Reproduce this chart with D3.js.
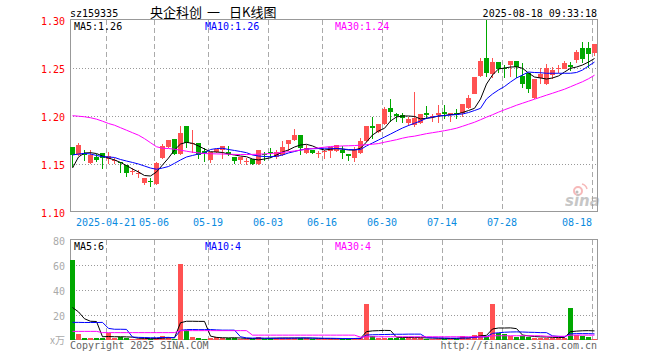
<!DOCTYPE html>
<html lang="zh-CN">
<head>
<meta charset="UTF-8">
<title>央企科创 日K线图</title>
<script src="https://cdn.jsdelivr.net/npm/d3@7"></script>
<style>
  body { margin: 0; background: #fff; }
  svg { display: block; }
  text { font-family: "DejaVu Sans Mono", "Liberation Mono", monospace; font-size: 10px; }
</style>
</head>
<body>
<svg id="chart" width="660" height="360"></svg>
<script>
const dates = [
  '04-11','04-14','04-15','04-16','04-17','04-18','04-21','04-22','04-23','04-24','04-25','04-28','04-29','04-30',
  '05-06','05-07','05-08','05-09','05-12','05-13','05-14','05-15','05-16','05-19','05-20','05-21','05-22','05-23',
  '05-26','05-27','05-28','05-29','05-30','06-03','06-04','06-05','06-06','06-09','06-10','06-11','06-12','06-13',
  '06-16','06-17','06-18','06-19','06-20','06-23','06-24','06-25','06-26','06-27','06-30','07-01','07-02','07-03',
  '07-04','07-07','07-08','07-09','07-10','07-11','07-14','07-15','07-16','07-17','07-18','07-21','07-22','07-23',
  '07-24','07-25','07-28','07-29','07-30','07-31','08-01','08-04','08-05','08-06','08-07','08-08','08-11','08-12',
  '08-13','08-14','08-15','08-18'
];

const open = [
  1.1677, 1.1594, 1.1615, 1.1510, 1.1578, 1.1611, 1.1549, 1.1532, 1.1517, 1.1490,
  1.1417, 1.1401, 1.1299, 1.1323, 1.1292, 1.1570, 1.1680, 1.1757, 1.1604, 1.1896,
  1.1717, 1.1715, 1.1635, 1.1549, 1.1622, 1.1646, 1.1628, 1.1570, 1.1534, 1.1529,
  1.1549, 1.1500, 1.1599, 1.1625, 1.1576, 1.1594, 1.1708, 1.1750, 1.1802, 1.1611,
  1.1646, 1.1612, 1.1635, 1.1628, 1.1639, 1.1646, 1.1601, 1.1566, 1.1618, 1.1740,
  1.1899, 1.1836, 1.1914, 1.2086, 1.2018, 1.2010, 1.1924, 1.1899, 1.1924, 1.2034,
  1.1990, 1.2010, 1.2039, 1.2010, 1.2034, 1.2028, 1.2086, 1.2236, 1.2417, 1.2607,
  1.2438, 1.2566, 1.2497, 1.2531, 1.2573, 1.2417, 1.2445, 1.2184, 1.2399, 1.2333,
  1.2427, 1.2486, 1.2497, 1.2531, 1.2583, 1.2711, 1.2711, 1.2653
];
const close = [
  1.1594, 1.1693, 1.1599, 1.1594, 1.1542, 1.1559, 1.1583, 1.1538, 1.1511, 1.1403,
  1.1424, 1.1406, 1.1351, 1.1318, 1.1514, 1.1691, 1.1750, 1.1604, 1.1820, 1.1715,
  1.1722, 1.1594, 1.1615, 1.1628, 1.1656, 1.1688, 1.1604, 1.1524, 1.1570, 1.1534,
  1.1500, 1.1646, 1.1594, 1.1620, 1.1628, 1.1680, 1.1750, 1.1799, 1.1663, 1.1663,
  1.1618, 1.1617, 1.1640, 1.1674, 1.1698, 1.1611, 1.1576, 1.1646, 1.1740, 1.1896,
  1.1880, 1.1920, 1.2073, 1.2045, 1.1997, 1.1976, 1.1969, 1.1976, 1.2021, 1.2018,
  1.2003, 1.2031, 1.2021, 1.2034, 1.2018, 1.2125, 1.2191, 1.2409, 1.2576, 1.2455,
  1.2566, 1.2490, 1.2486, 1.2573, 1.2514, 1.2333, 1.2281, 1.2382, 1.2438, 1.2497,
  1.2479, 1.2497, 1.2555, 1.2514, 1.2670, 1.2601, 1.2653, 1.2750
];
const high = [
  1.1677, 1.1714, 1.1646, 1.1646, 1.1604, 1.1615, 1.1628, 1.1559, 1.1524, 1.1490,
  1.1455, 1.1438, 1.1351, 1.1357, 1.1524, 1.1705, 1.1750, 1.1757, 1.1896, 1.1896,
  1.1854, 1.1715, 1.1667, 1.1628, 1.1656, 1.1688, 1.1688, 1.1570, 1.1570, 1.1563,
  1.1549, 1.1646, 1.1628, 1.1670, 1.1646, 1.1743, 1.1750, 1.1861, 1.1802, 1.1698,
  1.1646, 1.1638, 1.1646, 1.1674, 1.1698, 1.1688, 1.1601, 1.1680, 1.1768, 1.1896,
  1.1993, 1.1920, 1.2097, 1.2177, 1.2028, 1.2028, 1.1993, 1.2247, 1.2021, 1.2107,
  1.2018, 1.2115, 1.2115, 1.2034, 1.2070, 1.2125, 1.2219, 1.2409, 1.2601, 1.3000,
  1.2601, 1.2566, 1.2531, 1.2573, 1.2573, 1.2549, 1.2445, 1.2382, 1.2497, 1.2538,
  1.2514, 1.2531, 1.2573, 1.2566, 1.2688, 1.2768, 1.2768, 1.2750
];
const low = [
  1.1479, 1.1594, 1.1542, 1.1510, 1.1531, 1.1455, 1.1507, 1.1507, 1.1420, 1.1375,
  1.1396, 1.1361, 1.1290, 1.1271, 1.1292, 1.1559, 1.1680, 1.1604, 1.1604, 1.1680,
  1.1628, 1.1559, 1.1534, 1.1524, 1.1622, 1.1559, 1.1594, 1.1510, 1.1510, 1.1500,
  1.1500, 1.1500, 1.1542, 1.1576, 1.1563, 1.1594, 1.1646, 1.1750, 1.1601, 1.1611,
  1.1610, 1.1576, 1.1559, 1.1573, 1.1639, 1.1559, 1.1542, 1.1534, 1.1618, 1.1740,
  1.1768, 1.1836, 1.1914, 1.1948, 1.1948, 1.1934, 1.1906, 1.1899, 1.1924, 1.1976,
  1.1948, 1.1941, 1.1976, 1.1948, 1.1976, 1.2000, 1.2086, 1.2236, 1.2417, 1.2420,
  1.2410, 1.2462, 1.2406, 1.2417, 1.2410, 1.2305, 1.2247, 1.2184, 1.2340, 1.2333,
  1.2393, 1.2462, 1.2497, 1.2479, 1.2566, 1.2566, 1.2514, 1.2636
];

// moving averages as drawn on the chart
const ma5 = [
  1.1458, 1.1573, 1.1615, 1.1618, 1.1609, 1.1583, 1.1562, 1.1542, 1.1516, 1.1484,
  1.1448, 1.1417, 1.1380, 1.1375, 1.1417, 1.1490, 1.1562, 1.1646, 1.1708, 1.1726,
  1.1715, 1.1688, 1.1656, 1.1628, 1.1625, 1.1620, 1.1604, 1.1594, 1.1583, 1.1576,
  1.1552, 1.1542, 1.1552, 1.1565, 1.1594, 1.1625, 1.1646, 1.1677, 1.1698, 1.1705,
  1.1688, 1.1661, 1.1646, 1.1653, 1.1661, 1.1656, 1.1646, 1.1646, 1.1664, 1.1729,
  1.1802, 1.1844, 1.1872, 1.1948, 1.1990, 1.2000, 1.2000, 1.1995, 1.1969, 1.1976,
  1.1984, 1.2000, 1.2005, 1.2015, 1.2018, 1.2036, 1.2057, 1.2080, 1.2177, 1.2333,
  1.2427, 1.2490, 1.2500, 1.2510, 1.2513, 1.2497, 1.2448, 1.2406, 1.2396, 1.2385,
  1.2396, 1.2417, 1.2458, 1.2497, 1.2510, 1.2531, 1.2562, 1.2599
];
const ma10 = [
  1.1594, 1.1604, 1.1611, 1.1604, 1.1589, 1.1576, 1.1573, 1.1568, 1.1547, 1.1531,
  1.1516, 1.1500, 1.1479, 1.1458, 1.1445, 1.1458, 1.1474, 1.1507, 1.1542, 1.1573,
  1.1589, 1.1604, 1.1615, 1.1651, 1.1661, 1.1664, 1.1651, 1.1641, 1.1630, 1.1618,
  1.1594, 1.1583, 1.1578, 1.1576, 1.1580, 1.1594, 1.1615, 1.1630, 1.1646, 1.1656,
  1.1659, 1.1661, 1.1664, 1.1664, 1.1661, 1.1656, 1.1651, 1.1648, 1.1651, 1.1688,
  1.1719, 1.1750, 1.1781, 1.1812, 1.1844, 1.1875, 1.1901, 1.1924, 1.1948, 1.1976,
  1.1990, 1.2000, 1.2005, 1.2010, 1.2015, 1.2021, 1.2036, 1.2057, 1.2080, 1.2177,
  1.2229, 1.2271, 1.2307, 1.2354, 1.2396, 1.2427, 1.2458, 1.2453, 1.2451, 1.2445,
  1.2445, 1.2445, 1.2445, 1.2445, 1.2453, 1.2479, 1.2521, 1.2562
];
const ma30 = [
  1.2003, 1.1998, 1.1992, 1.1982, 1.1967, 1.1946, 1.1922, 1.1904, 1.1878, 1.1852,
  1.1826, 1.1800, 1.1764, 1.1722, 1.1680, 1.1664, 1.1661, 1.1654, 1.1644, 1.1633,
  1.1623, 1.1616, 1.1609, 1.1607, 1.1605, 1.1604, 1.1602, 1.1600, 1.1599, 1.1599,
  1.1600, 1.1602, 1.1605, 1.1609, 1.1614, 1.1620, 1.1628, 1.1636, 1.1644, 1.1654,
  1.1661, 1.1668, 1.1675, 1.1682, 1.1685, 1.1688, 1.1690, 1.1692, 1.1696, 1.1701,
  1.1706, 1.1713, 1.1727, 1.1740, 1.1753, 1.1769, 1.1782, 1.1790, 1.1803, 1.1816,
  1.1826, 1.1836, 1.1847, 1.1859, 1.1873, 1.1893, 1.1914, 1.1935, 1.1961, 1.1988,
  1.2013, 1.2040, 1.2065, 1.2088, 1.2112, 1.2133, 1.2154, 1.2175, 1.2196, 1.2217,
  1.2237, 1.2258, 1.2279, 1.2305, 1.2331, 1.2357, 1.2388, 1.2425
];

// volume, in 万
const volume = [
  64, 4.8, 2, 2, 2, 2, 5.6, 1.5, 2.2, 1.3,
  1, 1, 1, 1, 1.5, 3, 2.5, 1.2, 61, 7.7,
  2.7, 2, 1.2, 2, 2.4, 1.5, 1.5, 1.5, 1, 1.2,
  1, 2.5, 1, 1.5, 1.5, 1.5, 1.5, 2, 1.5, 1.5,
  1, 1, 1, 1.2, 1.2, 1, 1, 1.5, 2, 28.8,
  3.2, 2, 2, 2, 2, 2, 2.2, 1.3, 2, 1.2,
  1.2, 1.2, 1, 1.2, 1.2, 3.2, 2, 4, 6.7, 2.7,
  28.8, 5.9, 4.8, 3.2, 2.7, 3.2, 2.7, 2, 2, 2,
  2, 2, 2, 25.6, 4, 3.2, 2.7, 0.8
];
const volMa5 = [
  26, 22.5, 17, 15, 14.8, 2.6, 2.8, 2.6, 2.6, 2.5,
  2.3, 1.4, 1.3, 1.1, 1.1, 1.5, 1.8, 1.8, 13.8, 15,
  15, 14.9, 14.9, 3.1, 2.1, 1.8, 1.7, 1.8, 1.6, 1.3,
  1.2, 1.4, 1.3, 1.4, 1.5, 1.6, 1.6, 1.6, 1.6, 1.6,
  1.5, 1.3, 1.2, 1.1, 1.1, 1.1, 1.1, 1.2, 1.3, 6.7,
  7.3, 7.5, 7.7, 7.6, 2.2, 2, 2, 1.9, 1.9, 1.7,
  1.6, 1.4, 1.3, 1.2, 1.2, 1.6, 1.7, 2.3, 3.4, 3.7,
  8.8, 9.6, 9.6, 9.7, 9.1, 4, 3.3, 2.8, 2.5, 2.4,
  2.1, 2, 2, 6.7, 7.1, 7.4, 7.5, 7.3
];
const volMa10 = [
  14.1, 14.1, 14, 14, 14, 14.1, 9.3, 8.6, 8.6, 8.5,
  2.4, 2.1, 2, 1.8, 1.8, 2, 2.1, 1.8, 7.7, 8.3,
  8.4, 8.3, 8.3, 8.4, 8.1, 7.9, 7.9, 7.9, 2.6, 1.7,
  1.5, 1.6, 1.4, 1.4, 1.4, 1.4, 1.4, 1.5, 1.6, 1.6,
  1.5, 1.5, 1.4, 1.4, 1.3, 1.2, 1.2, 1.2, 1.3, 4,
  4.2, 4.3, 4.4, 4.5, 4.6, 4.6, 4.7, 4.7, 4.7, 1.9,
  1.8, 1.7, 1.6, 1.5, 1.5, 1.6, 1.7, 2, 2.5, 2.6,
  5.3, 5.8, 6.2, 6.4, 6.5, 6.4, 6.2, 6.1, 5.9, 5.9,
  3.3, 2.9, 2.6, 4.9, 5.1, 5.1, 5.1, 4.9
];
const volMa30 = [
  6.9, 6.9, 6.9, 6.9, 6.9, 5.9, 5.9, 5.9, 5.9, 5.9,
  5.9, 5.9, 5.9, 5.9, 5.9, 5.9, 5.9, 5.9, 7.5, 7.5,
  7.5, 7.5, 7.5, 7.5, 7.5, 7.5, 7.5, 7.5, 7.5, 7.5,
  3.9, 3.9, 3.9, 3.9, 3.9, 3.9, 3.9, 3.9, 3.9, 3.9,
  3.9, 3.9, 3.9, 3.9, 3.9, 3.9, 3.9, 3.9, 2.3, 2.6,
  2.6, 2.6, 2.6, 2.6, 2.6, 2.6, 2.6, 2.6, 2.6, 2.6,
  2.6, 2.6, 2.6, 2.6, 2.6, 2.6, 2.6, 2.6, 2.6, 2.6,
  3.4, 3.4, 3.4, 3.4, 3.4, 3.4, 3.4, 3.4, 3.4, 3.0,
  3.0, 3.0, 3.0, 3.9, 3.9, 3.9, 3.9, 3.9
];

const priceTicks = [1.10, 1.15, 1.20, 1.25, 1.30];
const volTicks = [20, 40, 60, 80];
const dateTicks = ['04-21', '05-06', '05-19', '06-03', '06-16', '06-30', '07-14', '07-28', '08-18'];
const dateTickLabels = ['2025-04-21', '05-06', '05-19', '06-03', '06-16', '06-30', '07-14', '07-28', '08-18'];
const titleParts = ['央企科创', '一', '日K线图'];
const priceMaLabels = ['MA5:1.26', 'MA10:1.26', 'MA30:1.24'];
const volMaLabels = ['MA5:6', 'MA10:4', 'MA30:4'];

const RED = '#ff5252', GREEN = '#00a800';
const MA_COLORS = ['#000000', '#0000ff', '#ff00ff'];
const left = 70, right = 597;
const svg = d3.select('#chart');

const x = d3.scaleBand().domain(dates).range([left, left + 6 * dates.length]);
const y = d3.scaleLinear().domain([1.10, 1.30]).range([212, 20]);
const yv = d3.scaleLinear().domain([0, 80]).range([340, 240]);
const cx = d => x(d) + 2.5;
const isUp = i => close[i] >= open[i];
const idx = d3.range(dates.length);

// header
svg.append('text').attr('x', 70).attr('y', 16.5).text('sz159335');
const titleX = [150, 207, 229];
titleParts.forEach((t, k) => svg.append('text').attr('x', titleX[k]).attr('y', 16.5)
  .style('font-family', '"Noto Sans CJK SC", sans-serif').style('font-size', '13px')
  .text(t));
svg.append('text').attr('x', right).attr('y', 16.5).attr('text-anchor', 'end').text('2025-08-18 09:33:18');

function frame(top, bottom, grid, scale) {
  const g = svg.append('g');
  g.selectAll('line.h').data(grid).join('line')
    .attr('x1', left).attr('x2', right)
    .attr('y1', d => Math.round(scale(d)) + 0.5).attr('y2', d => Math.round(scale(d)) + 0.5)
    .attr('stroke', '#999').attr('stroke-dasharray', '1,2');
  g.selectAll('line.v').data(dateTicks).join('line')
    .attr('x1', d => x(d) + 0.5).attr('x2', d => x(d) + 0.5)
    .attr('y1', top).attr('y2', bottom)
    .attr('stroke', '#aaa').attr('stroke-dasharray', '5,3');
  g.append('rect').attr('x', left + 0.5).attr('y', top - 0.5)
    .attr('width', right - left).attr('height', bottom - top)
    .attr('fill', 'none').attr('stroke', '#999');
}
frame(20, 212, [1.15, 1.20, 1.25], y);
frame(240, 340, [20, 40, 60], yv);

// price axis
svg.append('g').attr('transform', `translate(${left},0)`)
  .call(d3.axisLeft(y).tickValues(priceTicks).tickFormat(d3.format('.2f')).tickSize(0).tickPadding(5))
  .call(g => g.select('.domain').remove())
  .call(g => g.selectAll('text').attr('fill', '#ff0000').attr('dy', '0.4em')
    .style('font-family', '"DejaVu Sans Mono", monospace').style('font-size', '10px'));

// volume axis
svg.append('g').attr('transform', `translate(${left},0)`)
  .call(d3.axisLeft(yv).tickValues(volTicks).tickSize(0).tickPadding(5))
  .call(g => g.select('.domain').remove())
  .call(g => g.selectAll('text').attr('fill', '#aaa').attr('dy', '0.4em')
    .style('font-family', '"DejaVu Sans Mono", monospace').style('font-size', '10px'));
svg.append('text').attr('x', 65).attr('y', 344).attr('text-anchor', 'end')
  .attr('fill', '#aaa').style('font-family', '"Noto Sans CJK SC", sans-serif').text('x万');

// date labels
svg.append('g').selectAll('text').data(dateTicks).join('text')
  .attr('x', d => x(d))
  .attr('y', 225.5)
  .attr('text-anchor', (d, i) => i === dateTicks.length - 1 ? 'end' : 'middle')
  .attr('fill', '#0a8be0')
  .text((d, i) => dateTickLabels[i]);

// candles
const gc = svg.append('g');
gc.selectAll('line').data(idx).join('line')
  .attr('x1', i => cx(dates[i])).attr('x2', i => cx(dates[i]))
  .attr('y1', i => Math.round(y(high[i]))).attr('y2', i => Math.round(y(low[i])) + 1)
  .attr('stroke', i => isUp(i) ? RED : GREEN);
gc.selectAll('rect').data(idx).join('rect')
  .attr('x', i => x(dates[i]))
  .attr('width', 5)
  .attr('y', i => Math.round(y(Math.max(open[i], close[i]))))
  .attr('height', i => Math.max(1, Math.round(Math.abs(y(open[i]) - y(close[i])))))
  .attr('fill', i => isUp(i) ? RED : GREEN);

// volume bars
svg.append('g').selectAll('rect').data(idx).join('rect')
  .attr('x', i => x(dates[i]))
  .attr('width', 5)
  .attr('y', i => Math.round(yv(volume[i])))
  .attr('height', i => Math.max(1, 340 - Math.round(yv(volume[i]))))
  .attr('fill', i => isUp(i) ? RED : GREEN);

// MA lines
function maLine(values, scale, color) {
  svg.append('path').datum(values)
    .attr('d', d3.line().x((v, i) => cx(dates[i])).y(v => scale(v)))
    .attr('fill', 'none').attr('stroke', color).attr('stroke-width', 1);
}
[ma5, ma10, ma30].forEach((m, k) => maLine(m, y, MA_COLORS[k]));
[volMa5, volMa10, volMa30].forEach((m, k) => maLine(m, yv, MA_COLORS[k]));

const labelX = [74, 205, 335];
priceMaLabels.forEach((t, k) => svg.append('text').attr('x', labelX[k]).attr('y', 29.5).attr('fill', MA_COLORS[k]).text(t));
volMaLabels.forEach((t, k) => svg.append('text').attr('x', labelX[k]).attr('y', 249.5).attr('fill', MA_COLORS[k]).text(t));

// footer
svg.append('text').attr('x', 70).attr('y', 349).attr('fill', '#666').text('Copyright 2025 SINA.COM');
svg.append('text').attr('x', right).attr('y', 349).attr('text-anchor', 'end').attr('fill', '#666').text('http://finance.sina.com.cn');

// sina watermark
const logo = svg.append('g').attr('opacity', 0.55);
logo.append('circle').attr('cx', 578).attr('cy', 191).attr('r', 4).attr('fill', 'none').attr('stroke', '#f08080').attr('stroke-width', 2);
logo.append('circle').attr('cx', 577).attr('cy', 192).attr('r', 1.5).attr('fill', '#888');
logo.append('path').attr('d', 'M582,184 q4,1 5,5').attr('fill', 'none').attr('stroke', '#f08080').attr('stroke-width', 1.5);
logo.append('text').attr('x', 565).attr('y', 206)
  .style('font-family', '"DejaVu Sans", sans-serif').style('font-size', '15px')
  .style('font-style', 'italic').style('font-weight', 'bold')
  .attr('fill', '#999').text('sina');
</script>
</body>
</html>
